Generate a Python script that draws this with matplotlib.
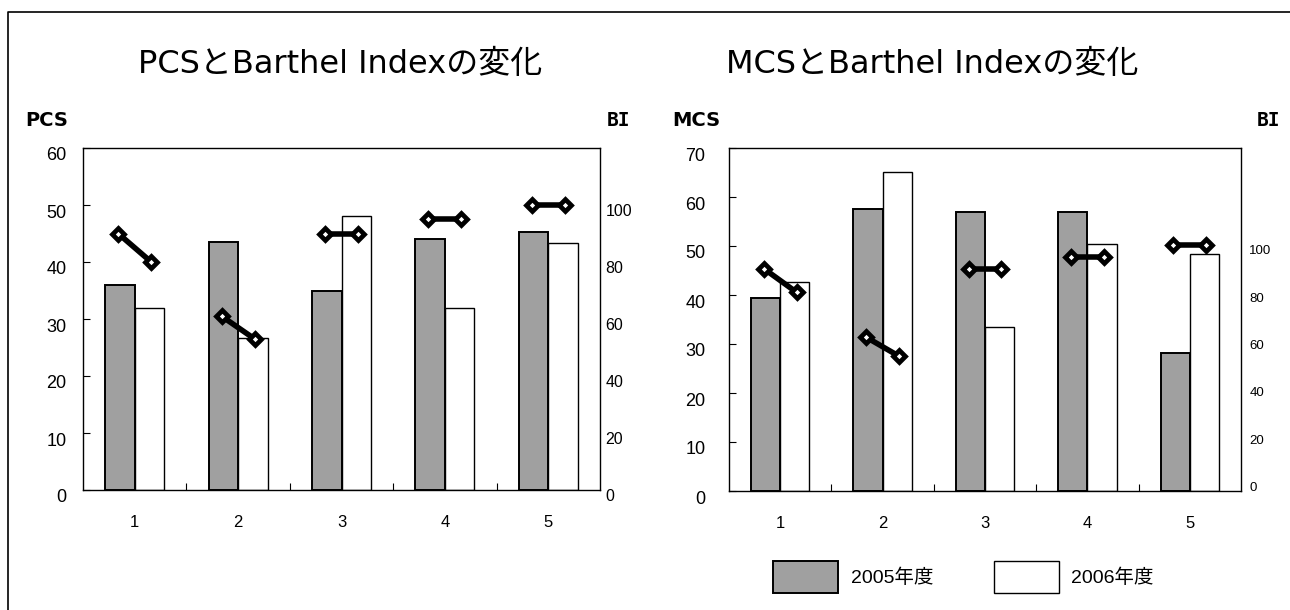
import matplotlib
matplotlib.use("Agg")
import numpy as np
import matplotlib.pyplot as plt
import matplotlib.transforms as mtransforms
from matplotlib.lines import Line2D

plt.rcParams['font.family'] = ['Liberation Sans', 'Noto Sans CJK JP', 'DejaVu Sans']

# data
cases = ["1", "2", "3", "4", "5"]
pcs_2005 = [36.0, 43.5, 35.0, 44.0, 45.3]
pcs_2006 = [32.0, 26.7, 48.0, 32.0, 43.3]
mcs_2005 = [39.4, 57.5, 57.0, 57.0, 28.2]
mcs_2006 = [42.7, 65.1, 33.5, 50.4, 48.4]
bi_2005 = [90, 61, 90, 95, 100]
bi_2006 = [80, 53, 90, 95, 100]
years = ["2005年度", "2006年度"]

W, H = 1290, 610
fig = plt.figure(figsize=(W / 100, H / 100), dpi=100)

GRAY = "#a0a0a0"
title_font = ['DejaVu Sans', 'Noto Sans CJK JP']


def px_box(x0, y0, x1, y1):
    return [x0 / W, 1 - y1 / H, (x1 - x0) / W, (y1 - y0) / H]


def shift_down(labels, px):
    off = mtransforms.ScaledTranslation(0, -px / 100, fig.dpi_scale_trans)
    for lab in labels:
        lab.set_transform(lab.get_transform() + off)


def panel(box, vals05, vals06, ymax, ystep, bi_lim, left_pad, right_pad,
          right_size, title, left_name, title_x, name_x, bi_x):
    ax = fig.add_axes(px_box(*box))
    x = np.arange(len(cases))
    w = 0.285
    b1 = ax.bar(x - w / 2, vals05, w, color=GRAY, edgecolor="black", linewidth=1.4,
                label=years[0], zorder=2)
    b2 = ax.bar(x + w / 2, vals06, w, color="white", edgecolor="black", linewidth=1.0,
                label=years[1], zorder=2)
    ax.set_xlim(-0.5, len(cases) - 0.5)
    ax.set_ylim(0, ymax)
    ax.set_yticks(np.arange(0, ymax + 1, ystep))
    ax.set_xticks(x)
    ax.set_xticklabels(cases)
    ax.set_xticks(np.arange(0.5, len(cases) - 1, 1.0), minor=True)
    ax.tick_params(axis="x", which="major", length=0, pad=18, labelsize=12)
    ax.tick_params(axis="x", which="minor", direction="in", length=5, width=0.8)
    ax.tick_params(axis="y", direction="in", length=5, width=0.8, pad=left_pad,
                   labelsize=13)
    for s in ax.spines.values():
        s.set_linewidth(1.0)
    shift_down(ax.get_yticklabels(), 6)

    ax2 = ax.twinx()
    for i in range(len(cases)):
        ax2.plot([x[i] - 0.16, x[i] + 0.16], [bi_2005[i], bi_2006[i]],
                 color="black", lw=4, marker="D", markersize=6.5,
                 markerfacecolor="white", markeredgecolor="black",
                 markeredgewidth=3.4, zorder=3, solid_capstyle="butt")
    ax2.set_ylim(*bi_lim)
    ax2.set_yticks(np.arange(0, 101, 20))
    ax2.tick_params(axis="y", length=0, pad=right_pad, labelsize=right_size)
    for s in ax2.spines.values():
        s.set_visible(False)
    shift_down(ax2.get_yticklabels(), 5)

    fig.text(title_x / W, 1 - 65 / H, title, ha="center", va="center",
             fontsize=23, family=title_font)
    fig.text(name_x / W, 1 - 121 / H, left_name, ha="left", va="center",
             fontsize=14, fontweight="bold", family="DejaVu Sans")
    fig.text(bi_x / W, 1 - 121 / H, "BI", ha="left", va="center",
             fontsize=14, fontweight="bold", family="DejaVu Sans Mono")
    return b1, b2


panel((83, 148, 600, 490), pcs_2005, pcs_2006, 60, 10, (0, 120), 12, 4, 11.5,
      "PCSとBarthel Indexの変化", "PCS", 340, 25, 607)
b1, b2 = panel((729, 148, 1241, 491), mcs_2005, mcs_2006, 70, 10, (-4, 141), 17, 6, 9.5,
               "MCSとBarthel Indexの変化", "MCS", 932, 672, 1257)

fig.legend(handles=[b1, b2], labels=years, loc="center left",
           bbox_to_anchor=(773 / W, 1 - 577 / H), ncol=2, frameon=False,
           fontsize=14, handlelength=3.35, handleheight=2.15, handletextpad=0.65,
           columnspacing=3.1, borderpad=0, borderaxespad=0)

# outer frame (left and top edges)
fig.add_artist(Line2D([8 / W, 8 / W, 1.0], [0.0, 1 - 12 / H, 1 - 12 / H],
                      transform=fig.transFigure, color="black", lw=1.2))

fig.savefig("out.png", dpi=100)
